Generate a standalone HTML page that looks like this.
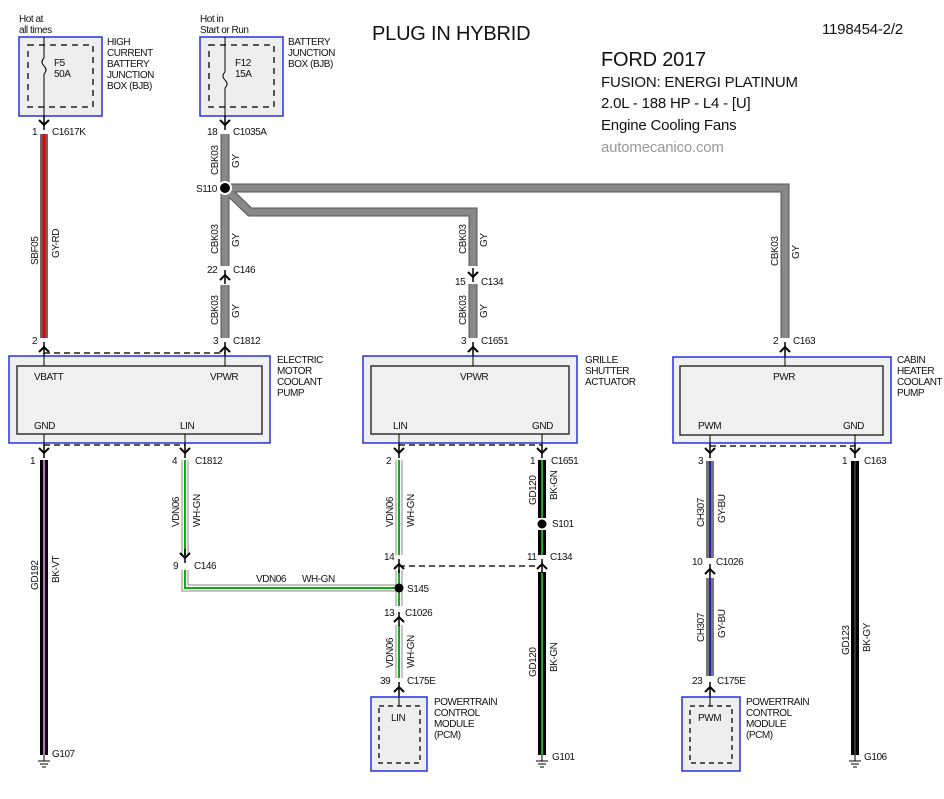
<!DOCTYPE html>
<html><head><meta charset="utf-8"><style>
body{margin:0;background:#fff}
svg{display:block}
text{font-family:"Liberation Sans Narrow","Liberation Sans",sans-serif;font-size:10px;fill:#111;letter-spacing:-0.45px}
.t{font-family:"Liberation Sans",sans-serif;letter-spacing:-0.2px}
</style></head><body>
<svg width="944" height="799" viewBox="0 0 944 799" xmlns="http://www.w3.org/2000/svg">
<defs>
<g id="dn"><path d="M-5,-4 L0,1 L5,-4" fill="none" stroke="#000" stroke-width="2"/><line x1="0" y1="-8" x2="0" y2="6" stroke="#000" stroke-width="1.5"/></g>
<g id="up"><path d="M-5,4 L0,-1 L5,4" fill="none" stroke="#000" stroke-width="2"/><line x1="0" y1="8" x2="0" y2="-6" stroke="#000" stroke-width="1.5"/></g>
<g id="gnd"><line x1="0" y1="0" x2="0" y2="6" stroke="#000"/><line x1="-6" y1="6" x2="6" y2="6" stroke="#000"/><line x1="-4" y1="9" x2="4" y2="9" stroke="#000"/><line x1="-2" y1="12" x2="2" y2="12" stroke="#000"/></g>
</defs>

<!-- Titles -->
<text x="372" y="40" class="t" style="font-size:20px">PLUG IN HYBRID</text>
<text x="822" y="34" class="t" style="font-size:15px">1198454-2/2</text>
<text x="601" y="66" class="t" style="font-size:20px">FORD 2017</text>
<text x="601" y="87" class="t" style="font-size:15px">FUSION: ENERGI PLATINUM</text>
<text x="601" y="108" class="t" style="font-size:15px">2.0L - 188 HP - L4 - [U]</text>
<text x="601" y="130" class="t" style="font-size:15px">Engine Cooling Fans</text>
<text x="601" y="152" class="t" style="font-size:15px;fill:#999">automecanico.com</text>

<!-- Fuse boxes -->
<text x="19" y="22">Hot at</text><text x="19" y="33">all times</text>
<rect x="19" y="37" width="83" height="79" fill="#eee" stroke="#2233dd" stroke-width="1.5"/>
<rect x="28" y="45" width="65" height="62" fill="none" stroke="#222" stroke-width="1.5" stroke-dasharray="6,5"/>
<line x1="44" y1="37" x2="44" y2="58" stroke="#000"/><path d="M44,58 q-4,4 0,8 q4,4 0,8" fill="none" stroke="#000"/><line x1="44" y1="74" x2="44" y2="123" stroke="#000"/>
<text x="54" y="66">F5</text><text x="54" y="77">50A</text>
<text x="107" y="45">HIGH</text><text x="107" y="56">CURRENT</text><text x="107" y="67">BATTERY</text><text x="107" y="78">JUNCTION</text><text x="107" y="89">BOX (BJB)</text>
<use href="#dn" x="44" y="124"/>
<text x="32" y="135">1</text><text x="52" y="135">C1617K</text>

<text x="200" y="22">Hot in</text><text x="200" y="33">Start or Run</text>
<rect x="200" y="37" width="83" height="79" fill="#eee" stroke="#2233dd" stroke-width="1.5"/>
<rect x="209" y="45" width="65" height="62" fill="none" stroke="#222" stroke-width="1.5" stroke-dasharray="6,5"/>
<line x1="225" y1="37" x2="225" y2="72" stroke="#000"/><path d="M225,72 q-4,4 0,8 q4,4 0,8" fill="none" stroke="#000"/><line x1="225" y1="88" x2="225" y2="123" stroke="#000"/>
<text x="235" y="66">F12</text><text x="235" y="77">15A</text>
<text x="288" y="45">BATTERY</text><text x="288" y="56">JUNCTION</text><text x="288" y="67">BOX (BJB)</text>
<use href="#dn" x="225" y="124"/>
<text x="207" y="135">18</text><text x="233" y="135">C1035A</text>

<!-- GY wires -->
<g fill="none" stroke-linejoin="miter">
<path d="M225,134 V266 M225,188 H785 V338 M225,188 L250,212 H473 V266 M225,285 V338 M473,284 V338" stroke="#555" stroke-width="9"/>
<path d="M225,134 V266 M225,188 H785 V338 M225,188 L250,212 H473 V266 M225,285 V338 M473,284 V338" stroke="#888" stroke-width="7"/>
</g>
<circle cx="225" cy="188" r="6" fill="#000" stroke="#fff" stroke-width="2"/>
<text x="196" y="192">S110</text>
<g transform="translate(218,175) rotate(-90)"><text>CBK03</text></g><g transform="translate(239,168) rotate(-90)"><text>GY</text></g>
<g transform="translate(218,254) rotate(-90)"><text>CBK03</text></g><g transform="translate(239,247) rotate(-90)"><text>GY</text></g>
<g transform="translate(218,325) rotate(-90)"><text>CBK03</text></g><g transform="translate(239,318) rotate(-90)"><text>GY</text></g>
<g transform="translate(466,254) rotate(-90)"><text>CBK03</text></g><g transform="translate(487,247) rotate(-90)"><text>GY</text></g>
<g transform="translate(466,325) rotate(-90)"><text>CBK03</text></g><g transform="translate(487,318) rotate(-90)"><text>GY</text></g>
<g transform="translate(778,266) rotate(-90)"><text>CBK03</text></g><g transform="translate(799,259) rotate(-90)"><text>GY</text></g>
<use href="#up" x="225" y="276"/><text x="207" y="273">22</text><text x="233" y="273">C146</text>
<use href="#dn" x="473" y="276"/><text x="455" y="285">15</text><text x="481" y="285">C134</text>

<!-- GY-RD -->
<line x1="44" y1="134" x2="44" y2="338" stroke="#666" stroke-width="8"/>
<line x1="44" y1="134" x2="44" y2="338" stroke="#e00" stroke-width="3"/>
<g transform="translate(38,265) rotate(-90)"><text>SBF05</text></g><g transform="translate(59,258) rotate(-90)"><text>GY-RD</text></g>

<!-- top connectors of modules -->
<use href="#up" x="44" y="348"/><text x="32" y="344">2</text>
<use href="#up" x="225" y="348"/><text x="213" y="344">3</text><text x="233" y="344">C1812</text>
<use href="#up" x="473" y="348"/><text x="461" y="344">3</text><text x="481" y="344">C1651</text>
<use href="#up" x="785" y="348"/><text x="773" y="344">2</text><text x="793" y="344">C163</text>
<line x1="44" y1="353" x2="225" y2="353" stroke="#222" stroke-width="1.5" stroke-dasharray="6,4"/>

<!-- Modules -->
<rect x="9" y="356" width="261" height="87" fill="#f0f0f0" stroke="#2233dd" stroke-width="1.5"/>
<rect x="17" y="366" width="245" height="68" fill="#f0f0f0" stroke="#333" stroke-width="1.5"/>
<line x1="44" y1="352" x2="44" y2="366" stroke="#000"/><line x1="225" y1="352" x2="225" y2="366" stroke="#000"/>
<text x="34" y="380">VBATT</text><text x="210" y="380">VPWR</text><text x="34" y="429">GND</text><text x="180" y="429">LIN</text>
<text x="277" y="363">ELECTRIC</text><text x="277" y="374">MOTOR</text><text x="277" y="385">COOLANT</text><text x="277" y="396">PUMP</text>
<line x1="44" y1="434" x2="44" y2="450" stroke="#000"/><line x1="185" y1="434" x2="185" y2="450" stroke="#000"/>

<rect x="363" y="356" width="214" height="87" fill="#f0f0f0" stroke="#2233dd" stroke-width="1.5"/>
<rect x="371" y="366" width="198" height="68" fill="#f0f0f0" stroke="#333" stroke-width="1.5"/>
<line x1="473" y1="352" x2="473" y2="366" stroke="#000"/>
<text x="460" y="380">VPWR</text><text x="393" y="429">LIN</text><text x="532" y="429">GND</text>
<text x="585" y="363">GRILLE</text><text x="585" y="374">SHUTTER</text><text x="585" y="385">ACTUATOR</text>
<line x1="399" y1="434" x2="399" y2="450" stroke="#000"/><line x1="542" y1="434" x2="542" y2="450" stroke="#000"/>

<rect x="673" y="357" width="218" height="86" fill="#f0f0f0" stroke="#2233dd" stroke-width="1.5"/>
<rect x="680" y="366" width="203" height="69" fill="#f0f0f0" stroke="#333" stroke-width="1.5"/>
<line x1="785" y1="352" x2="785" y2="366" stroke="#000"/>
<text x="773" y="380">PWR</text><text x="698" y="429">PWM</text><text x="843" y="429">GND</text>
<text x="897" y="363">CABIN</text><text x="897" y="374">HEATER</text><text x="897" y="385">COOLANT</text><text x="897" y="396">PUMP</text>
<line x1="710" y1="435" x2="710" y2="450" stroke="#000"/><line x1="855" y1="435" x2="855" y2="450" stroke="#000"/>

<!-- bottom dashed -->
<line x1="44" y1="445" x2="185" y2="445" stroke="#222" stroke-width="1.5" stroke-dasharray="6,4"/>
<line x1="399" y1="445" x2="542" y2="445" stroke="#222" stroke-width="1.5" stroke-dasharray="6,4"/>
<line x1="710" y1="446" x2="855" y2="446" stroke="#222" stroke-width="1.5" stroke-dasharray="6,4"/>
<line x1="399" y1="566" x2="542" y2="566" stroke="#222" stroke-width="1.5" stroke-dasharray="6,4"/>

<!-- bottom connectors -->
<use href="#dn" x="44" y="452"/><text x="30" y="464">1</text>
<use href="#dn" x="185" y="452"/><text x="172" y="464">4</text><text x="195" y="464">C1812</text>
<use href="#dn" x="399" y="452"/><text x="386" y="464">2</text>
<use href="#dn" x="542" y="452"/><text x="530" y="464">1</text><text x="551" y="464">C1651</text>
<use href="#dn" x="710" y="452"/><text x="698" y="464">3</text>
<use href="#dn" x="855" y="452"/><text x="842" y="464">1</text><text x="864" y="464">C163</text>

<!-- BK-VT -->
<line x1="44" y1="460" x2="44" y2="755" stroke="#000" stroke-width="8"/>
<line x1="44" y1="460" x2="44" y2="755" stroke="#c6c" stroke-width="2"/>
<g transform="translate(38,590) rotate(-90)"><text>GD192</text></g><g transform="translate(59,583) rotate(-90)"><text>BK-VT</text></g>
<use href="#gnd" x="44" y="755"/><text x="52" y="757">G107</text>

<!-- WH-GN -->
<g fill="none">
<path d="M185,460 V555 M185,570 V588 H399 M399,460 V555 M399,570 V606 M399,625 V678" stroke="#888" stroke-width="7"/>
<path d="M185,460 V555 M185,570 V588 H399 M399,460 V555 M399,570 V606 M399,625 V678" stroke="#fff" stroke-width="5"/>
<path d="M185,460 V555 M185,570 V588 H399 M399,460 V555 M399,570 V606 M399,625 V678" stroke="#1a1" stroke-width="2"/>
</g>
<g transform="translate(179,527) rotate(-90)"><text>VDN06</text></g><g transform="translate(200,527) rotate(-90)"><text>WH-GN</text></g>
<g transform="translate(393,527) rotate(-90)"><text>VDN06</text></g><g transform="translate(414,527) rotate(-90)"><text>WH-GN</text></g>
<g transform="translate(393,668) rotate(-90)"><text>VDN06</text></g><g transform="translate(414,668) rotate(-90)"><text>WH-GN</text></g>
<text x="256" y="582">VDN06</text><text x="302" y="582">WH-GN</text>
<use href="#dn" x="185" y="557"/><text x="173" y="569">9</text><text x="194" y="569">C146</text>
<use href="#up" x="399" y="565"/><text x="384" y="560">14</text>
<circle cx="399" cy="588" r="4.5" fill="#000"/><text x="407" y="592">S145</text>
<use href="#up" x="399" y="618"/><text x="384" y="616">13</text><text x="405" y="616">C1026</text>
<use href="#up" x="399" y="688"/><text x="380" y="684">39</text><text x="407" y="684">C175E</text>
<rect x="371" y="697" width="56" height="74" fill="#eee" stroke="#2233dd" stroke-width="1.5"/>
<rect x="379" y="706" width="41" height="57" fill="none" stroke="#222" stroke-width="1.5" stroke-dasharray="5,4"/>
<line x1="399" y1="690" x2="399" y2="706" stroke="#000"/>
<text x="391" y="721">LIN</text>
<text x="434" y="705">POWERTRAIN</text><text x="434" y="716">CONTROL</text><text x="434" y="727">MODULE</text><text x="434" y="738">(PCM)</text>

<!-- BK-GN -->
<g stroke-width="8">
<line x1="542" y1="460" x2="542" y2="518" stroke="#000"/><line x1="542" y1="530" x2="542" y2="555" stroke="#000"/><line x1="542" y1="572" x2="542" y2="755" stroke="#000"/>
</g>
<g stroke-width="2" stroke="#1a1">
<line x1="542" y1="460" x2="542" y2="518"/><line x1="542" y1="530" x2="542" y2="555"/><line x1="542" y1="572" x2="542" y2="755"/>
</g>
<circle cx="542" cy="524" r="4.5" fill="#000"/><text x="552" y="527">S101</text>
<g transform="translate(536,505) rotate(-90)"><text>GD120</text></g><g transform="translate(557,500) rotate(-90)"><text>BK-GN</text></g>
<g transform="translate(536,677) rotate(-90)"><text>GD120</text></g><g transform="translate(557,672) rotate(-90)"><text>BK-GN</text></g>
<use href="#up" x="542" y="565"/><text x="527" y="560">11</text><text x="550" y="560">C134</text>
<use href="#gnd" x="542" y="755"/><text x="552" y="760">G101</text>

<!-- GY-BU -->
<g stroke-width="8" stroke="#777">
<line x1="710" y1="461" x2="710" y2="558"/><line x1="710" y1="578" x2="710" y2="676"/>
</g>
<g stroke-width="2" stroke="#22c">
<line x1="710" y1="461" x2="710" y2="558"/><line x1="710" y1="578" x2="710" y2="676"/>
</g>
<g transform="translate(704,527) rotate(-90)"><text>CH307</text></g><g transform="translate(725,523) rotate(-90)"><text>GY-BU</text></g>
<g transform="translate(704,642) rotate(-90)"><text>CH307</text></g><g transform="translate(725,638) rotate(-90)"><text>GY-BU</text></g>
<use href="#up" x="710" y="570"/><text x="692" y="565">10</text><text x="716" y="565">C1026</text>
<use href="#up" x="710" y="688"/><text x="692" y="684">23</text><text x="717" y="684">C175E</text>
<rect x="682" y="697" width="58" height="74" fill="#eee" stroke="#2233dd" stroke-width="1.5"/>
<rect x="690" y="706" width="42" height="57" fill="none" stroke="#222" stroke-width="1.5" stroke-dasharray="5,4"/>
<line x1="710" y1="690" x2="710" y2="706" stroke="#000"/>
<text x="698" y="721">PWM</text>
<text x="746" y="705">POWERTRAIN</text><text x="746" y="716">CONTROL</text><text x="746" y="727">MODULE</text><text x="746" y="738">(PCM)</text>

<!-- BK-GY -->
<line x1="855" y1="461" x2="855" y2="755" stroke="#000" stroke-width="8"/>
<line x1="855" y1="461" x2="855" y2="755" stroke="#333" stroke-width="2"/>
<g transform="translate(849,655) rotate(-90)"><text>GD123</text></g><g transform="translate(870,652) rotate(-90)"><text>BK-GY</text></g>
<use href="#gnd" x="855" y="755"/><text x="864" y="760">G106</text>
</svg>
</body></html>
